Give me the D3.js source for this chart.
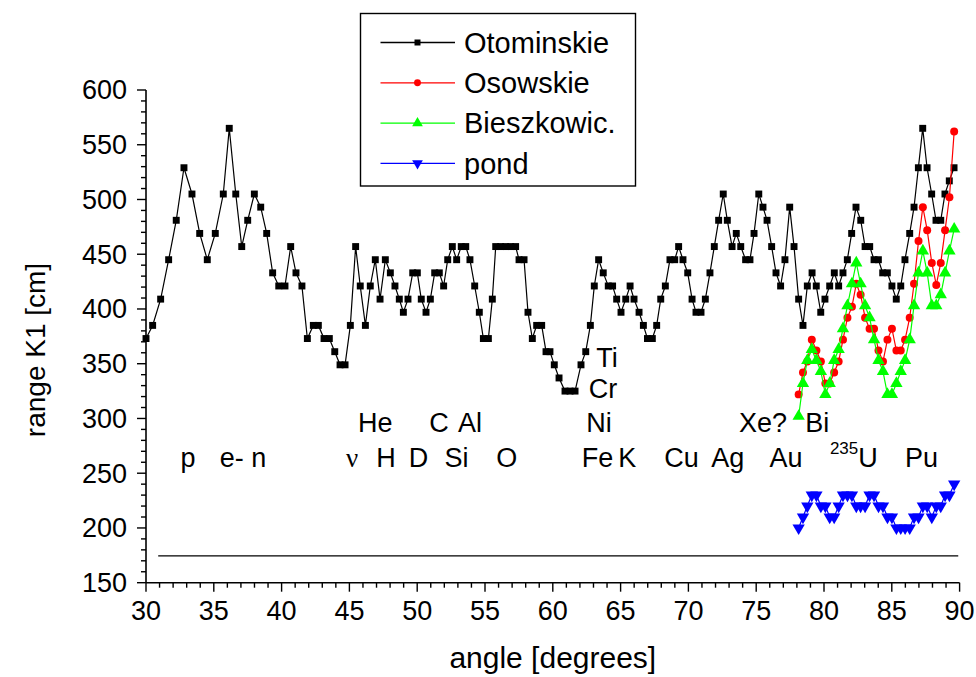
<!DOCTYPE html>
<html>
<head>
<meta charset="utf-8">
<script src="https://cdn.jsdelivr.net/npm/d3@7"></script>
<style>
  html, body { margin: 0; padding: 0; background: #fff; }
  svg { display: block; font-family: "Liberation Sans", Arial, sans-serif; }
</style>
</head>
<body>
<svg id="chart" width="976" height="677"></svg>
<script>
// ---------- DATA ----------
const otominskieAngle = [30.0,30.49,31.08,31.67,32.23,32.80,33.39,33.96,34.52,35.11,35.70,36.14,36.62,37.06,37.50,37.99,38.46,38.90,39.34,39.79,40.25,40.67,41.06,41.50,41.90,42.34,42.71,43.13,43.52,43.92,44.31,44.68,45.07,45.46,45.80,46.18,46.54,46.91,47.26,47.65,48.02,48.36,48.68,48.98,49.32,49.67,50.01,50.30,50.65,50.97,51.29,51.63,51.95,52.25,52.59,52.91,53.25,53.58,53.89,54.24,54.58,54.88,55.25,55.54,55.79,56.15,56.52,56.89,57.26,57.51,57.88,58.17,58.49,58.81,59.18,59.50,59.79,60.11,60.46,60.90,61.27,61.64,62.08,62.43,62.77,63.06,63.38,63.72,64.09,64.41,64.71,65.03,65.38,65.70,65.99,66.36,66.68,66.98,67.34,67.66,67.96,68.30,68.64,68.99,69.28,69.60,69.95,70.27,70.56,70.93,71.25,71.59,71.91,72.23,72.57,72.87,73.22,73.53,73.86,74.22,74.54,74.84,75.19,75.50,75.80,76.14,76.46,76.80,77.12,77.47,77.79,78.13,78.45,78.77,79.12,79.43,79.76,80.07,80.42,80.76,81.08,81.40,81.72,82.04,82.36,82.71,83.03,83.37,83.69,84.01,84.33,84.67,85.01,85.33,85.66,85.97,86.32,86.64,86.96,87.28,87.60,87.94,88.26,88.61,88.92,89.24,89.59];
const otominskieRange = [373,385,409,445,481,529,505,469,445,469,505,565,505,457,481,505,493,469,433,421,421,457,433,421,373,385,385,373,373,361,349,349,385,457,421,385,421,445,409,445,433,421,409,397,409,433,433,409,397,409,433,433,421,445,457,445,457,457,445,421,397,373,373,409,457,457,457,457,457,445,445,397,373,385,385,361,361,349,337,325,325,325,349,361,385,421,445,433,421,421,409,397,409,421,409,397,385,373,373,385,409,421,445,445,457,445,433,409,397,397,409,433,457,481,505,481,457,469,457,445,445,469,505,493,481,457,433,421,445,493,457,409,385,421,433,421,397,409,421,433,421,433,445,469,493,481,457,457,445,445,433,433,421,409,421,445,469,493,529,565,529,505,481,481,505,517,529];

const tailAngle = [78.13,78.45,78.77,79.10,79.44,79.77,80.10,80.42,80.75,81.08,81.40,81.73,82.06,82.38,82.70,83.03,83.36,83.69,84.02,84.35,84.68,85.01,85.34,85.66,85.98,86.32,86.64,86.97,87.29,87.61,87.95,88.28,88.61,88.93,89.25,89.60];
const osowskieRange = [322,342,352,372,362,352,332,332,342,352,372,392,402,423,413,392,382,382,362,352,372,382,362,362,372,392,423,462,493,472,442,422,442,472,502,562];
const bieszkowicRange = [302,332,353,363,353,343,322,332,353,363,382,403,423,442,423,403,392,372,353,343,322,322,332,343,353,372,403,433,453,433,403,403,413,433,453,473];
const pondRange = [200,210,220,230,230,220,220,210,210,220,230,230,230,220,220,220,230,230,220,220,210,210,200,200,200,200,210,210,220,220,210,220,220,230,230,240];

const baselineAngle = [30.9, 89.9];
const baselineRange = [174.5, 174.5];

const xTicks = [30,35,40,45,50,55,60,65,70,75,80,85,90];
const yTicks = [150,200,250,300,350,400,450,500,550,600];
const seriesNames = ["Otominskie","Osowskie","Bieszkowic.","pond"];

// element annotations: [text, angle, range]
const elementLabels = [
  ["p",33.1,264],["e- n",37.15,264],["H",47.7,264],["D",50.1,264],["Si",52.9,264],["O",56.6,264],
  ["Fe",63.3,264],["K",65.5,264],["Cu",69.5,264],["Ag",72.9,264],["Au",77.2,264],["Pu",87.2,264],
  ["He",46.9,296],["C",51.6,296],["Al",53.9,296],["Ni",63.4,296],["Xe?",75.5,296],["Bi",79.5,296],
  ["Cr",63.7,327],["Ti",64.0,356]
];

// ---------- LAYOUT ----------
const svg = d3.select("#chart");
const x = d3.scaleLinear().domain([30, 90]).range([146, 959.6]);
const y = d3.scaleLinear().domain([150, 600]).range([582.7, 90]);
const FS = 27;

// axes
const gx = svg.append("g").attr("transform", `translate(0,${y(150)})`);
gx.append("line").attr("x1", x(30)).attr("x2", x(90)).attr("stroke", "#000").attr("stroke-width", 1.6);
gx.selectAll("line.minor").data(d3.range(30, 91, 1)).join("line")
  .attr("x1", d => x(d)).attr("x2", d => x(d)).attr("y1", 0)
  .attr("y2", d => xTicks.includes(d) ? 9 : 5).attr("stroke", "#000").attr("stroke-width", 1.4);
gx.selectAll("text").data(xTicks).join("text")
  .attr("x", d => x(d)).attr("y", 37).attr("text-anchor", "middle")
  .attr("font-size", FS).text(d => d);

const gy = svg.append("g").attr("transform", `translate(${x(30)},0)`);
gy.append("line").attr("y1", y(150)).attr("y2", y(600)).attr("stroke", "#000").attr("stroke-width", 1.6);
gy.selectAll("line.minor").data(d3.range(150, 601, 10)).join("line")
  .attr("y1", d => y(d)).attr("y2", d => y(d)).attr("x1", 0)
  .attr("x2", d => yTicks.includes(d) ? -9 : -5).attr("stroke", "#000").attr("stroke-width", 1.4);
gy.selectAll("text").data(yTicks).join("text")
  .attr("x", -19).attr("y", d => y(d)).attr("dy", "0.35em").attr("text-anchor", "end")
  .attr("font-size", FS).text(d => d);

// axis titles
svg.append("text").attr("x", x(60)).attr("y", 668).attr("text-anchor", "middle")
  .attr("font-size", 30).text("angle [degrees]");
svg.append("text").attr("transform", `translate(45,350) rotate(-90)`)
  .attr("text-anchor", "middle").attr("font-size", 28).text("range K1 [cm]");

// baseline
svg.append("path")
  .datum(baselineAngle.map((a, i) => [a, baselineRange[i]]))
  .attr("fill", "none").attr("stroke", "#000").attr("stroke-width", 1.2)
  .attr("d", d3.line().x(d => x(d[0])).y(d => y(d[1])));

// element labels
const lab = svg.append("g").attr("font-size", FS).attr("text-anchor", "middle");
lab.selectAll("text.el").data(elementLabels).join("text")
  .attr("x", d => x(d[1])).attr("y", d => y(d[2])).attr("dy", "0.35em").text(d => d[0]);
lab.append("text").attr("x", x(45.2)).attr("y", y(264)).attr("dy", "0.35em")
  .attr("font-family", "Liberation Serif, serif").text("ν");
const uLab = lab.append("text").attr("x", x(82.2)).attr("y", y(264)).attr("dy", "0.35em").attr("text-anchor", "middle");
uLab.append("tspan").attr("font-size", 17).attr("dy", "-0.25em").text("235");
uLab.append("tspan").attr("dy", "0.5em").text("U");

// series
const line = d3.line().x(d => x(d[0])).y(d => y(d[1]));
const series = [
  {name: seriesNames[0], color: "#000000", sym: d3.symbolSquare, size: 48, rot: 0,
   pts: otominskieAngle.map((a, i) => [a, otominskieRange[i]])},
  {name: seriesNames[1], color: "#ff0000", sym: d3.symbolCircle, size: 50, rot: 0,
   pts: tailAngle.map((a, i) => [a, osowskieRange[i]])},
  {name: seriesNames[2], color: "#00ff00", sym: d3.symbolTriangle, size: 66, rot: 0,
   pts: tailAngle.map((a, i) => [a, bieszkowicRange[i]])},
  {name: seriesNames[3], color: "#0000ff", sym: d3.symbolTriangle, size: 66, rot: 180,
   pts: tailAngle.map((a, i) => [a, pondRange[i]])}
];

series.forEach(s => {
  const g = svg.append("g");
  g.append("path").datum(s.pts).attr("fill", "none").attr("stroke", s.color)
    .attr("stroke-width", 1.2).attr("d", line);
  g.selectAll("path.m").data(s.pts).join("path").attr("class", "m")
    .attr("transform", d => `translate(${x(d[0])},${y(d[1])}) rotate(${s.rot})`)
    .attr("d", d3.symbol().type(s.sym).size(s.size)).attr("fill", s.color);
});

// legend
const lg = svg.append("g");
lg.append("rect").attr("x", 360.5).attr("y", 13.5).attr("width", 275).attr("height", 172.5)
  .attr("fill", "#fff").attr("stroke", "#000").attr("stroke-width", 1.4);
series.forEach((s, i) => {
  const cy = 42.5 + i * 40.3;
  lg.append("line").attr("x1", 380.5).attr("x2", 455).attr("y1", cy).attr("y2", cy)
    .attr("stroke", s.color).attr("stroke-width", 1.3);
  lg.append("path").attr("transform", `translate(417.5,${cy}) rotate(${s.rot})`)
    .attr("d", d3.symbol().type(s.sym).size(s.size * 0.75)).attr("fill", s.color);
  lg.append("text").attr("x", 464).attr("y", cy).attr("dy", "0.35em")
    .attr("font-size", 29).text(s.name);
});
</script>
</body>
</html>
